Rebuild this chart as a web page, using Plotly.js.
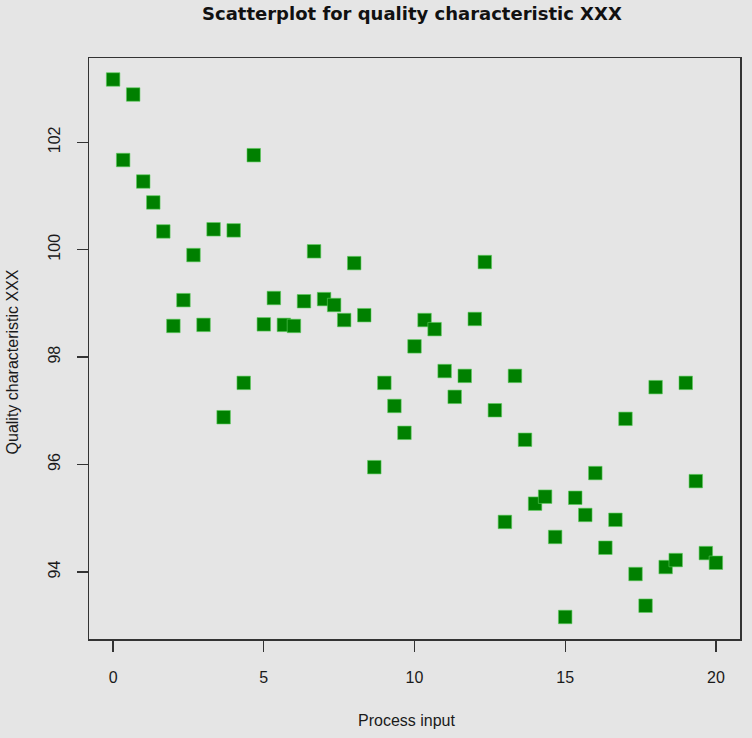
<!DOCTYPE html>
<html>
<head>
<meta charset="utf-8">
<script src="https://cdn.plot.ly/plotly-3.0.1.min.js"></script>
<style>html,body{margin:0;padding:0;background:#e5e5e5;}#chart{width:752px;height:738px;}</style>
</head>
<body>
<div id="chart"></div>
<script>
// Process input: 61 evenly spaced steps from 0 to 20 (index / 3)
var stepIndex = [0,1,2,3,4,5,6,7,8,9,10,11,12,13,14,15,16,17,18,19,20,21,22,23,24,25,26,27,28,29,30,
  31,32,33,34,35,36,37,38,39,40,41,42,43,44,45,46,47,48,49,50,51,52,53,54,55,56,57,58,59,60];
var quality = [103.17,101.67,102.89,101.27,100.88,100.34,98.58,99.06,99.90,98.60,100.38,96.88,100.36,97.52,101.76,
  98.61,99.10,98.60,98.58,99.04,99.97,99.08,98.97,98.69,99.75,98.78,95.95,97.52,97.09,96.59,
  98.20,98.69,98.52,97.74,97.26,97.65,98.71,99.77,97.01,94.93,97.65,96.46,95.27,95.40,94.65,
  93.16,95.38,95.06,95.84,94.45,94.97,96.85,93.96,93.37,97.44,94.09,94.22,97.52,95.69,94.35,94.17];
var xTicks = [0,5,10,15,20];
var yTicks = [94,96,98,100,102];

var processInput = stepIndex.map(function(i){ return i/3; });

var trace = {
  x: processInput,
  y: quality,
  type: 'scatter',
  mode: 'markers',
  marker: {symbol: 'square', size: 13.5, color: '#008000', line: {color: '#5ccc5c', width: 0.6}},
  hoverinfo: 'x+y'
};

var fam = '"Liberation Sans", Arial, Helvetica, sans-serif';
var font = {family: fam, size: 16, color: '#1a1a1a'};

var layout = {
  width: 752, height: 738,
  paper_bgcolor: '#e5e5e5', plot_bgcolor: '#e5e5e5',
  margin: {l: 89, r: 12, t: 58, b: 99},
  font: font,
  showlegend: false,
  title: {text: 'Scatterplot for quality characteristic XXX', xref: 'paper', x: 0.496, xanchor: 'center',
    yref: 'container', y: 0.981, yanchor: 'middle',
    font: {family: '"DejaVu Sans", Verdana, sans-serif', size: 18, color: '#111', weight: 'bold'}},
  xaxis: {
    range: [-0.8, 20.8], tickvals: xTicks, ticktext: xTicks.map(String),
    showgrid: false, zeroline: false, showline: true, mirror: true, linecolor: '#333', linewidth: 1.5,
    ticks: 'outside', ticklen: 11, tickcolor: '#333', tickwidth: 1.3, ticklabelstandoff: 12,
    tickfont: font
  },
  yaxis: {
    range: [92.75, 103.57], tickvals: yTicks, ticktext: yTicks.map(String), tickangle: -90,
    showgrid: false, zeroline: false, showline: true, mirror: true, linecolor: '#333', linewidth: 1.5,
    ticks: 'outside', ticklen: 11, tickcolor: '#333', tickwidth: 1.3, ticklabelstandoff: 10,
    tickfont: font
  },
  annotations: [
    {text: 'Process input', xref: 'paper', yref: 'paper', x: 0.488, y: 0, xanchor: 'center', yanchor: 'middle',
      yshift: -81, showarrow: false, font: font},
    {text: 'Quality characteristic XXX', xref: 'paper', yref: 'paper', x: 0, y: 0.476, xanchor: 'center', yanchor: 'middle',
      xshift: -77, textangle: -90, showarrow: false, font: font}
  ]
};

Plotly.newPlot('chart', [trace], layout, {displayModeBar: false, staticPlot: true});
</script>
</body>
</html>
